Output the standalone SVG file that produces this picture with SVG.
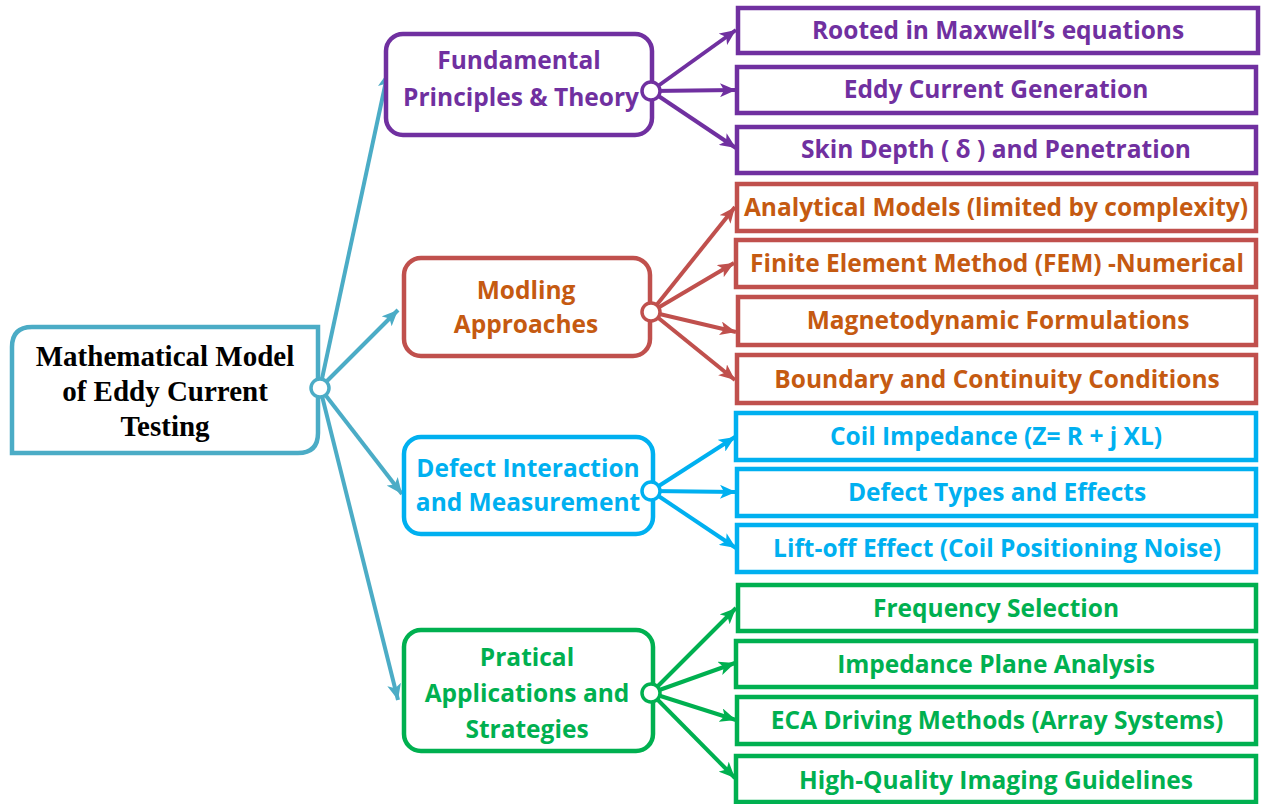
<svg xmlns="http://www.w3.org/2000/svg" width="1269" height="804" viewBox="0 0 1269 804">
<style>
.t{font-family:"Open Sans",Lato,"Liberation Sans",sans-serif;font-weight:bold;font-size:24.5px;text-anchor:middle}
.root{font-family:"Liberation Serif","Times New Roman",serif;font-weight:bold;font-size:29px;text-anchor:middle;fill:#000}
.box{fill:#fff;stroke-width:4.5}
.ln{stroke-width:4;fill:none}
.dot{fill:#fff;stroke-width:3.5}
.pu{stroke:#7030A0}.puT{fill:#7030A0}
.re{stroke:#C0504D}.reT{fill:#C55A11}
.cy{stroke:#00B0F0}.cyT{fill:#00B0F0}
.gr{stroke:#00B050}.grT{fill:#00B050}
.te{stroke:#4BACC6}
</style>
<defs>
<marker id="aTe" markerUnits="userSpaceOnUse" markerWidth="18" markerHeight="14" refX="16" refY="7" orient="auto"><path d="M0,0 L16,7 L0,14 L4,7 Z" fill="#4BACC6"/></marker>
<marker id="aPu" markerUnits="userSpaceOnUse" markerWidth="18" markerHeight="14" refX="16" refY="7" orient="auto"><path d="M0,0 L16,7 L0,14 L4,7 Z" fill="#7030A0"/></marker>
<marker id="aRe" markerUnits="userSpaceOnUse" markerWidth="18" markerHeight="14" refX="16" refY="7" orient="auto"><path d="M0,0 L16,7 L0,14 L4,7 Z" fill="#C0504D"/></marker>
<marker id="aCy" markerUnits="userSpaceOnUse" markerWidth="18" markerHeight="14" refX="16" refY="7" orient="auto"><path d="M0,0 L16,7 L0,14 L4,7 Z" fill="#00B0F0"/></marker>
<marker id="aGr" markerUnits="userSpaceOnUse" markerWidth="18" markerHeight="14" refX="16" refY="7" orient="auto"><path d="M0,0 L16,7 L0,14 L4,7 Z" fill="#00B050"/></marker>
</defs>
<rect width="1269" height="804" fill="#fff"/>

<g id="connectors">
<line class="ln te" x1="320" y1="388" x2="388" y2="72" marker-end="url(#aTe)"/>
<line class="ln te" x1="320" y1="388" x2="398" y2="310" marker-end="url(#aTe)"/>
<line class="ln te" x1="320" y1="388" x2="402" y2="494" marker-end="url(#aTe)"/>
<line class="ln te" x1="320" y1="388" x2="398" y2="700" marker-end="url(#aTe)"/>

<line class="ln pu" x1="651" y1="91" x2="736" y2="30" marker-end="url(#aPu)"/>
<line class="ln pu" x1="651" y1="91" x2="736" y2="90" marker-end="url(#aPu)"/>
<line class="ln pu" x1="651" y1="91" x2="736" y2="148" marker-end="url(#aPu)"/>

<line class="ln re" x1="651" y1="312" x2="735" y2="207" marker-end="url(#aRe)"/>
<line class="ln re" x1="651" y1="312" x2="734" y2="263" marker-end="url(#aRe)"/>
<line class="ln re" x1="651" y1="312" x2="736" y2="332" marker-end="url(#aRe)"/>
<line class="ln re" x1="651" y1="312" x2="735" y2="380" marker-end="url(#aRe)"/>

<line class="ln cy" x1="651" y1="491" x2="735" y2="437" marker-end="url(#aCy)"/>
<line class="ln cy" x1="651" y1="491" x2="736" y2="492" marker-end="url(#aCy)"/>
<line class="ln cy" x1="651" y1="491" x2="736" y2="548" marker-end="url(#aCy)"/>

<line class="ln gr" x1="651" y1="693" x2="736" y2="608" marker-end="url(#aGr)"/>
<line class="ln gr" x1="651" y1="693" x2="735" y2="663" marker-end="url(#aGr)"/>
<line class="ln gr" x1="651" y1="693" x2="736" y2="720" marker-end="url(#aGr)"/>
<line class="ln gr" x1="651" y1="693" x2="735" y2="778" marker-end="url(#aGr)"/>
</g>

<g id="root">
<path class="box te" d="M12,347 Q12,327 32,327 L318,327 L318,433 Q318,453 298,453 L12,453 Z"/>
<text class="root" x="165" y="366">Mathematical Model</text>
<text class="root" x="165" y="401">of Eddy Current</text>
<text class="root" x="165" y="436">Testing</text>
<circle class="dot te" cx="320" cy="388" r="9"/>
</g>

<g id="fundamental">
<rect class="box pu" x="386" y="34" width="266" height="101" rx="17"/>
<text class="t puT" x="519" y="69">Fundamental</text>
<text class="t puT" x="521" y="106">Principles &amp; Theory</text>
<circle class="dot pu" cx="651" cy="91" r="9"/>
</g>
<g id="leaf-maxwell"><rect class="box pu" x="738" y="8" width="520" height="45"/><text class="t puT" x="998" y="39">Rooted in Maxwell’s equations</text></g>
<g id="leaf-eddy"><rect class="box pu" x="737" y="67" width="519" height="46"/><text class="t puT" x="996" y="98">Eddy Current Generation</text></g>
<g id="leaf-skin"><rect class="box pu" x="737" y="127" width="519" height="46"/><text class="t puT" x="996" y="158">Skin Depth ( δ ) and Penetration</text></g>

<g id="modling">
<rect class="box re" x="404" y="258" width="246" height="98" rx="17"/>
<text class="t reT" x="526" y="299">Modling</text>
<text class="t reT" x="526" y="333">Approaches</text>
<circle class="dot re" cx="651" cy="312" r="9"/>
</g>
<g id="leaf-analytical"><rect class="box re" x="737" y="184" width="519" height="47"/><text class="t reT" x="996" y="216">Analytical Models (limited by complexity)</text></g>
<g id="leaf-fem"><rect class="box re" x="736" y="240" width="520" height="47"/><text class="t reT" x="997" y="272">Finite Element Method (FEM) -Numerical</text></g>
<g id="leaf-magneto"><rect class="box re" x="738" y="297" width="518" height="48"/><text class="t reT" x="998" y="329">Magnetodynamic Formulations</text></g>
<g id="leaf-boundary"><rect class="box re" x="737" y="355" width="519" height="48"/><text class="t reT" x="997" y="388">Boundary  and Continuity Conditions</text></g>

<g id="defect">
<rect class="box cy" x="404" y="437" width="249" height="97" rx="17"/>
<text class="t cyT" x="528" y="477">Defect Interaction</text>
<text class="t cyT" x="528" y="511">and Measurement</text>
<circle class="dot cy" cx="651" cy="491" r="9"/>
</g>
<g id="leaf-coil"><rect class="box cy" x="736" y="413" width="520" height="47"/><text class="t cyT" x="996" y="445">Coil Impedance (Z= R + j XL)</text></g>
<g id="leaf-types"><rect class="box cy" x="737" y="469" width="519" height="47"/><text class="t cyT" x="997" y="501">Defect Types and Effects</text></g>
<g id="leaf-liftoff"><rect class="box cy" x="737" y="525" width="519" height="47"/><text class="t cyT" x="997" y="557">Lift-off Effect (Coil Positioning Noise)</text></g>

<g id="pratical">
<rect class="box gr" x="404" y="630" width="249" height="121" rx="17"/>
<text class="t grT" x="527" y="666">Pratical</text>
<text class="t grT" x="527" y="702">Applications and</text>
<text class="t grT" x="527" y="738">Strategies</text>
<circle class="dot gr" cx="651" cy="693" r="9"/>
</g>
<g id="leaf-freq"><rect class="box gr" x="738" y="585" width="518" height="46"/><text class="t grT" x="996" y="617">Frequency Selection</text></g>
<g id="leaf-imp"><rect class="box gr" x="736" y="641" width="520" height="46"/><text class="t grT" x="996" y="673">Impedance Plane Analysis</text></g>
<g id="leaf-eca"><rect class="box gr" x="737" y="697" width="519" height="47"/><text class="t grT" x="997" y="729">ECA Driving Methods (Array Systems)</text></g>
<g id="leaf-hq"><rect class="box gr" x="736" y="756" width="520" height="46"/><text class="t grT" x="996" y="789">High-Quality Imaging Guidelines</text></g>
</svg>
